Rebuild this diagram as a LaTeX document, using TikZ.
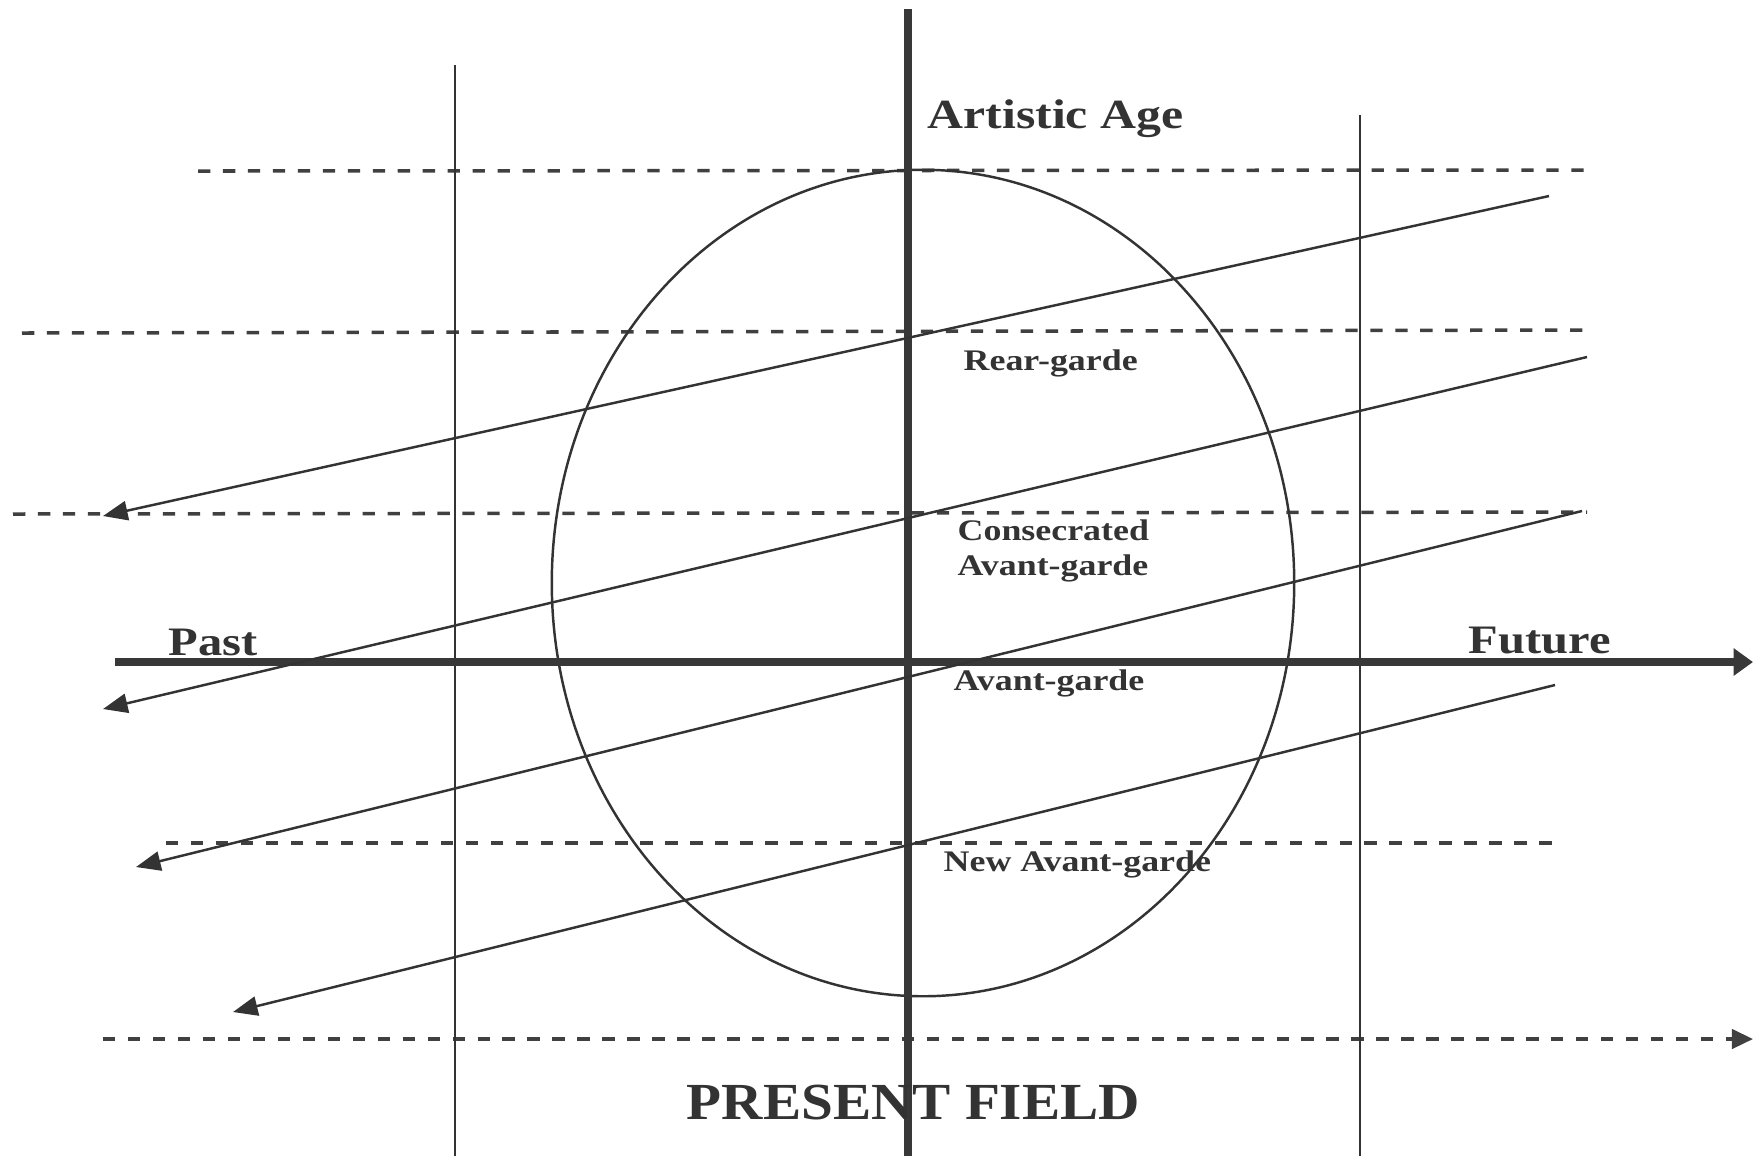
\documentclass[tikz,border=0pt]{standalone}
\usepackage{fontspec}
\setmainfont{Liberation Serif}
\newfontfamily\widefont[FakeStretch=1.2]{Liberation Serif}
\newfontfamily\fieldfont[FakeStretch=1.1]{Liberation Serif}
\usetikzlibrary{arrows.meta}

\begin{document}
\begin{tikzpicture}[x=0.01cm, y=-0.01cm, line join=round,
    axis/.style={line width=2.3pt, draw=black!78},
    thinline/.style={line width=0.7pt, draw=black!80},
    guide/.style={line width=1pt, draw=black!75, dash pattern=on 3.5pt off 3.6pt},
    drift/.style={line width=0.7pt, draw=black!80, -{Triangle[length=7pt,width=5.5pt]}},
    lbl/.style={inner sep=0pt, anchor=base west, text=black!80},
    zone/.style={lbl, font=\widefont\bfseries\fontsize{8.5}{10}\selectfont},
    timelbl/.style={lbl, font=\widefont\bfseries\fontsize{11.5}{13}\selectfont}]

        \useasboundingbox (0,0) rectangle (1754,1156);

        % Dashed guides
        \draw[guide] (198,171) -- (1587,170);
        \draw[guide] (22,333) -- (1587,330);
        \draw[guide] (13,514) -- (1587,512);
        \draw[guide] (166,843) -- (1555,843);
        \draw[guide, -{Triangle[length=6pt,width=5.5pt]}] (103,1039) -- (1753,1039);

        % Field of the present
        \draw[thinline] (923,583) ellipse [x radius=3.71cm, y radius=4.13cm];

        % Verticals
        \draw[thinline] (455,65) -- (455,1156);
        \draw[thinline] (1360,115) -- (1360,1156);
        \draw[axis] (908,9) -- (908,1156);

        % Time axis
        \draw[axis, -{Triangle[length=5.5pt,width=7.5pt]}] (115,662) -- (1753,662);

        % Drift towards the past
        \draw[drift] (1549,196) -- (103,516);
        \draw[drift] (1587,357) -- (103,709);
        \draw[drift] (1582,511) -- (136,867);
        \draw[drift] (1555,685) -- (233,1012);

        % Labels
        \node[lbl, font=\widefont\bfseries\fontsize{11.8}{14}\selectfont] (age) at (927,128) {Artistic Age};
        \node[zone] (rear) at (963,370) {Rear-garde};
        \node[zone] (consec) at (957,540) {Consecrated};
        \node[zone] (consecavant) at (957,575) {Avant-garde};
        \node[zone] (avant) at (953,690) {Avant-garde};
        \node[zone] (newavant) at (943,871) {New Avant-garde};
        \node[timelbl] (past) at (168,655) {Past};
        \node[timelbl] (future) at (1468,653) {Future};
        \node[lbl, font=\fieldfont\bfseries\fontsize{14.8}{18}\selectfont] (field) at (686,1119) {PRESENT FIELD};
    \end{tikzpicture}
\end{document}
